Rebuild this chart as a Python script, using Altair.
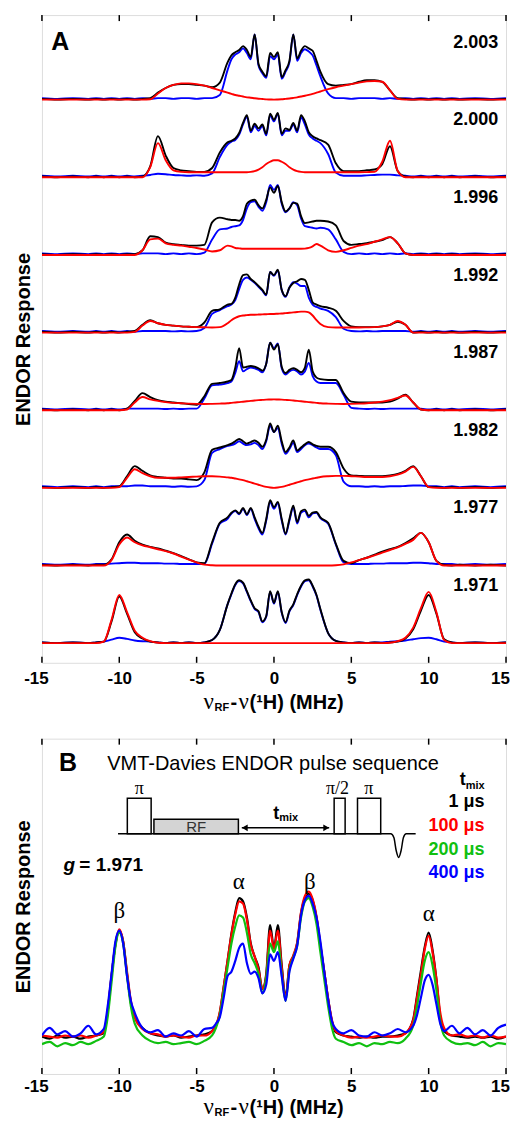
import altair as alt
import pandas as pd

# ---------------- shared values ----------------
TICKS = [-15, -10, -5, 0, 5, 10, 15]
G_VALUES = ["1.971", "1.977", "1.982", "1.987", "1.992", "1.996", "2.000", "2.003"]

# ---------------- panel A : x grid (MHz) ----------------
XA = [-15, -14, -13, -12,
      -11.5, -11, -10.5, -10, -9.5, -9, -8.5, -8, -7.5, -7, -6.5, -6, -5.5, -5, -4.5, -4, -3.5, -3,
      -2.75, -2.5, -2.25, -2, -1.75, -1.5, -1.25, -1, -0.75, -0.5, -0.25, 0, 0.25, 0.5, 0.75, 1, 1.25,
      1.5, 1.75, 2, 2.25, 2.5, 2.75, 3,
      3.5, 4, 4.5, 5, 5.5, 6, 6.5, 7, 7.5, 8, 8.5, 9, 9.5, 10, 10.5, 11, 11.5,
      12, 13, 14, 15]

# g = 2.003
G2003_K = [0.01, 0.00, 0.01, 0.00,
           0.01, 0.00, 0.01, 0.00, 0.01, 0.00, 0.01, 0.02, 0.09, 0.15, 0.19, 0.20, 0.20, 0.19, 0.18, 0.16, 0.22, 0.48,
           0.57, 0.61, 0.64, 0.69, 0.64, 0.55, 0.84, 0.46, 0.36, 0.30, 0.60, 0.55, 0.61, 0.29, 0.38, 0.50, 0.84, 0.53, 0.63, 0.69, 0.66, 0.63, 0.50, 0.36,
           0.20, 0.18, 0.19, 0.20, 0.23, 0.25, 0.25, 0.23, 0.12, 0.02, 0.01, 0.00, 0.01, 0.00, 0.01, 0.00, 0.01,
           0.00, 0.01, 0.00, 0.01]
G2003_B = [0.02, 0.01, 0.02, 0.01,
           0.02, 0.01, 0.02, 0.01, 0.02, 0.01, 0.02, 0.01, 0.02, 0.02, 0.01, 0.02, 0.02, 0.01, 0.02, 0.02, 0.06, 0.38,
           0.52, 0.58, 0.61, 0.66, 0.60, 0.52, 0.84, 0.44, 0.34, 0.28, 0.56, 0.52, 0.58, 0.27, 0.36, 0.48, 0.84, 0.50, 0.60, 0.65, 0.62, 0.57, 0.44, 0.30,
           0.08, 0.02, 0.02, 0.01, 0.02, 0.02, 0.02, 0.01, 0.02, 0.01, 0.02, 0.01, 0.02, 0.01, 0.02, 0.01, 0.02,
           0.01, 0.02, 0.01, 0.02]
G2003_R = [0, 0, 0, 0,
           0, 0, 0, 0, 0, 0, 0, 0.005, 0.08, 0.15, 0.19, 0.21, 0.21, 0.20, 0.18, 0.15, 0.12, 0.09,
           0.075, 0.06, 0.05, 0.04, 0.03, 0.025, 0.018, 0.012, 0.008, 0.004, 0.002, 0.0, 0.002, 0.005, 0.01, 0.015, 0.022, 0.03, 0.04, 0.05, 0.062, 0.075, 0.09, 0.105,
           0.135, 0.16, 0.18, 0.20, 0.22, 0.235, 0.24, 0.23, 0.12, 0.01, 0, 0, 0, 0, 0, 0, 0,
           0, 0, 0, 0]

# g = 2.000
G2000_K = [0.01, 0.00, 0.01, 0.00,
           0.01, 0.00, 0.01, 0.00, 0.01, 0.00, 0.01, 0.14, 0.53, 0.28, 0.12, 0.09, 0.08, 0.07, 0.07, 0.12, 0.32, 0.45,
           0.47, 0.50, 0.57, 0.70, 0.80, 0.60, 0.69, 0.63, 0.68, 0.56, 0.82, 0.74, 0.83, 0.56, 0.63, 0.61, 0.70, 0.60, 0.80, 0.72, 0.58, 0.53, 0.50, 0.48,
           0.42, 0.18, 0.08, 0.08, 0.08, 0.09, 0.10, 0.17, 0.40, 0.08, 0.01, 0.00, 0.01, 0.00, 0.01, 0.00, 0.01,
           0.00, 0.01, 0.00, 0.01]
G2000_B = [0.02, 0.01, 0.02, 0.01,
           0.02, 0.01, 0.02, 0.01, 0.02, 0.01, 0.02, 0.03, 0.045, 0.04, 0.03, 0.025, 0.02, 0.025, 0.02, 0.05, 0.26, 0.42,
           0.46, 0.48, 0.55, 0.68, 0.78, 0.58, 0.66, 0.60, 0.66, 0.54, 0.80, 0.72, 0.82, 0.54, 0.60, 0.60, 0.68, 0.58, 0.77, 0.68, 0.55, 0.50, 0.47, 0.44,
           0.30, 0.06, 0.02, 0.02, 0.02, 0.025, 0.03, 0.035, 0.035, 0.025, 0.02, 0.01, 0.02, 0.01, 0.02, 0.01, 0.02,
           0.01, 0.02, 0.01, 0.02]
G2000_R = [0, 0, 0, 0,
           0, 0, 0, 0, 0, 0, 0, 0.13, 0.44, 0.22, 0.09, 0.07, 0.065, 0.065, 0.065, 0.065, 0.065, 0.065,
           0.065, 0.065, 0.065, 0.065, 0.065, 0.07, 0.08, 0.10, 0.13, 0.17, 0.20, 0.22, 0.22, 0.20, 0.17, 0.13, 0.10, 0.08, 0.07, 0.065, 0.065, 0.065, 0.065, 0.065,
           0.065, 0.065, 0.065, 0.065, 0.065, 0.067, 0.07, 0.20, 0.47, 0.08, 0, 0, 0, 0, 0, 0, 0,
           0, 0, 0, 0]

# g = 1.996
G1996_K = [0.01, 0.00, 0.01, 0.00,
           0.01, 0.00, 0.01, 0.00, 0.01, 0.01, 0.06, 0.24, 0.23, 0.16, 0.14, 0.13, 0.12, 0.12, 0.13, 0.42, 0.48, 0.46,
           0.45, 0.45, 0.44, 0.50, 0.66, 0.70, 0.71, 0.64, 0.60, 0.71, 0.87, 0.80, 0.89, 0.68, 0.56, 0.60, 0.67, 0.66, 0.50, 0.41, 0.42, 0.43, 0.44, 0.44,
           0.43, 0.38, 0.18, 0.13, 0.14, 0.15, 0.17, 0.19, 0.23, 0.15, 0.02, 0.00, 0.01, 0.00, 0.01, 0.00, 0.01,
           0.00, 0.01, 0.00, 0.01]
G1996_B = [0.02, 0.01, 0.02, 0.01,
           0.02, 0.01, 0.02, 0.01, 0.02, 0.01, 0.02, 0.02, 0.02, 0.01, 0.02, 0.01, 0.02, 0.01, 0.03, 0.20, 0.33, 0.34,
           0.36, 0.37, 0.38, 0.45, 0.60, 0.68, 0.69, 0.62, 0.57, 0.68, 0.90, 0.84, 0.90, 0.66, 0.55, 0.60, 0.68, 0.64, 0.47, 0.37, 0.36, 0.35, 0.34, 0.35,
           0.33, 0.20, 0.04, 0.01, 0.02, 0.01, 0.02, 0.01, 0.02, 0.01, 0.02, 0.01, 0.02, 0.01, 0.02, 0.01, 0.02,
           0.01, 0.02, 0.01, 0.02]
G1996_R = [0, 0, 0, 0,
           0, 0, 0, 0, 0, 0, 0.06, 0.20, 0.21, 0.15, 0.13, 0.12, 0.105, 0.09, 0.07, 0.045, 0.06, 0.12,
           0.11, 0.09, 0.085, 0.08, 0.08, 0.08, 0.08, 0.08, 0.08, 0.08, 0.08, 0.08, 0.08, 0.08, 0.08, 0.08, 0.08, 0.08, 0.08, 0.082, 0.09, 0.11, 0.14, 0.12,
           0.06, 0.04, 0.06, 0.09, 0.12, 0.14, 0.17, 0.20, 0.23, 0.15, 0.02, 0, 0, 0, 0, 0, 0,
           0, 0, 0, 0]

# g = 1.992
G1992_K = [0.01, 0.00, 0.01, 0.00,
           0.01, 0.00, 0.01, 0.00, 0.01, 0.02, 0.10, 0.16, 0.12, 0.10, 0.09, 0.08, 0.075, 0.07, 0.13, 0.28, 0.30, 0.36,
           0.37, 0.45, 0.62, 0.74, 0.75, 0.69, 0.65, 0.60, 0.55, 0.49, 0.78, 0.74, 0.81, 0.55, 0.47, 0.58, 0.64, 0.66, 0.69, 0.68, 0.55, 0.39, 0.36, 0.34,
           0.32, 0.28, 0.15, 0.08, 0.07, 0.07, 0.07, 0.08, 0.10, 0.14, 0.10, 0.00, 0.01, 0.00, 0.01, 0.00, 0.01,
           0.00, 0.01, 0.00, 0.01]
G1992_B = [0.02, 0.01, 0.02, 0.01,
           0.02, 0.01, 0.02, 0.01, 0.02, 0.01, 0.02, 0.02, 0.02, 0.02, 0.015, 0.02, 0.015, 0.02, 0.06, 0.24, 0.29, 0.34,
           0.36, 0.42, 0.56, 0.68, 0.71, 0.68, 0.64, 0.59, 0.54, 0.48, 0.78, 0.73, 0.80, 0.55, 0.46, 0.58, 0.65, 0.63, 0.60, 0.60, 0.45, 0.36, 0.33, 0.31,
           0.28, 0.20, 0.05, 0.02, 0.015, 0.02, 0.015, 0.02, 0.02, 0.02, 0.02, 0.01, 0.02, 0.01, 0.02, 0.01, 0.02,
           0.01, 0.02, 0.01, 0.02]
G1992_R = [0, 0, 0, 0,
           0, 0, 0, 0, 0, 0.01, 0.09, 0.15, 0.12, 0.10, 0.09, 0.08, 0.075, 0.07, 0.068, 0.065, 0.07, 0.12,
           0.16, 0.19, 0.21, 0.22, 0.225, 0.23, 0.23, 0.232, 0.235, 0.237, 0.24, 0.24, 0.243, 0.245, 0.25, 0.255, 0.26, 0.265, 0.27, 0.27, 0.26, 0.22, 0.16, 0.11,
           0.07, 0.065, 0.065, 0.065, 0.065, 0.067, 0.07, 0.08, 0.10, 0.15, 0.10, 0, 0, 0, 0, 0, 0,
           0, 0, 0, 0]

# g = 1.987
G1987_K = [0.01, 0.00, 0.01, 0.00,
           0.01, 0.00, 0.01, 0.00, 0.02, 0.12, 0.22, 0.17, 0.13, 0.11, 0.10, 0.09, 0.08, 0.07, 0.18, 0.34, 0.35, 0.37,
           0.39, 0.55, 0.80, 0.55, 0.56, 0.57, 0.56, 0.54, 0.51, 0.60, 0.87, 0.78, 0.85, 0.56, 0.48, 0.52, 0.54, 0.52, 0.49, 0.55, 0.78, 0.50, 0.42, 0.40,
           0.39, 0.39, 0.22, 0.11, 0.10, 0.10, 0.10, 0.10, 0.11, 0.15, 0.20, 0.10, 0.01, 0.00, 0.01, 0.00, 0.01,
           0.00, 0.01, 0.00, 0.01]
G1987_B = [0.02, 0.01, 0.02, 0.01,
           0.02, 0.01, 0.02, 0.01, 0.02, 0.02, 0.02, 0.02, 0.02, 0.015, 0.02, 0.015, 0.02, 0.02, 0.15, 0.32, 0.33, 0.35,
           0.37, 0.48, 0.63, 0.50, 0.53, 0.55, 0.54, 0.52, 0.49, 0.60, 0.87, 0.80, 0.86, 0.54, 0.46, 0.50, 0.52, 0.50, 0.46, 0.50, 0.61, 0.44, 0.37, 0.35,
           0.35, 0.35, 0.20, 0.03, 0.02, 0.015, 0.02, 0.015, 0.02, 0.02, 0.02, 0.02, 0.02, 0.01, 0.02, 0.01, 0.02,
           0.01, 0.02, 0.01, 0.02]
G1987_R = [0, 0, 0, 0,
           0, 0, 0, 0, 0.01, 0.10, 0.17, 0.14, 0.12, 0.105, 0.095, 0.09, 0.085, 0.082, 0.08, 0.082, 0.085, 0.09,
           0.095, 0.10, 0.105, 0.11, 0.115, 0.12, 0.125, 0.13, 0.133, 0.136, 0.138, 0.14, 0.138, 0.136, 0.133, 0.13, 0.125, 0.12, 0.115, 0.11, 0.105, 0.10, 0.095, 0.09,
           0.085, 0.082, 0.08, 0.082, 0.085, 0.09, 0.10, 0.11, 0.13, 0.16, 0.19, 0.10, 0.01, 0, 0, 0, 0,
           0, 0, 0, 0]

# g = 1.982
G1982_K = [0.01, 0.00, 0.01, 0.00,
           0.01, 0.00, 0.01, 0.02, 0.15, 0.28, 0.22, 0.16, 0.14, 0.13, 0.12, 0.12, 0.11, 0.10, 0.20, 0.49, 0.52, 0.55,
           0.57, 0.60, 0.63, 0.60, 0.57, 0.59, 0.61, 0.58, 0.53, 0.62, 0.83, 0.72, 0.80, 0.60, 0.46, 0.52, 0.61, 0.48, 0.52, 0.56, 0.59, 0.56, 0.54, 0.53,
           0.53, 0.46, 0.25, 0.16, 0.155, 0.15, 0.15, 0.15, 0.16, 0.18, 0.22, 0.28, 0.15, 0.01, 0.01, 0.00, 0.01,
           0.00, 0.01, 0.00, 0.01]
G1982_B = [0.02, 0.01, 0.02, 0.01,
           0.02, 0.01, 0.02, 0.02, 0.02, 0.03, 0.03, 0.02, 0.02, 0.02, 0.015, 0.02, 0.015, 0.02, 0.10, 0.45, 0.50, 0.54,
           0.55, 0.57, 0.60, 0.57, 0.55, 0.56, 0.58, 0.55, 0.50, 0.60, 0.80, 0.72, 0.77, 0.57, 0.44, 0.50, 0.58, 0.46, 0.50, 0.55, 0.57, 0.55, 0.52, 0.50,
           0.50, 0.42, 0.08, 0.02, 0.02, 0.015, 0.02, 0.015, 0.02, 0.02, 0.025, 0.03, 0.03, 0.02, 0.02, 0.01, 0.02,
           0.01, 0.02, 0.01, 0.02]
G1982_R = [0, 0, 0, 0,
           0, 0, 0, 0.01, 0.13, 0.24, 0.19, 0.15, 0.13, 0.13, 0.13, 0.135, 0.14, 0.145, 0.15, 0.15, 0.145, 0.135,
           0.13, 0.12, 0.11, 0.10, 0.085, 0.07, 0.055, 0.04, 0.025, 0.012, 0.004, 0.0, 0.004, 0.012, 0.025, 0.04, 0.055, 0.07, 0.085, 0.10, 0.11, 0.12, 0.13, 0.14,
           0.15, 0.155, 0.155, 0.15, 0.145, 0.14, 0.14, 0.14, 0.15, 0.17, 0.21, 0.27, 0.15, 0.01, 0, 0, 0,
           0, 0, 0, 0]

# g = 1.977
G1977_K = [0.01, 0.00, 0.01, 0.00,
           0.01, 0.01, 0.08, 0.30, 0.40, 0.32, 0.27, 0.24, 0.22, 0.19, 0.16, 0.12, 0.08, 0.04, 0.03, 0.30, 0.55, 0.62,
           0.68, 0.71, 0.67, 0.74, 0.66, 0.74, 0.62, 0.50, 0.42, 0.60, 0.84, 0.75, 0.82, 0.60, 0.41, 0.60, 0.77, 0.56, 0.70, 0.72, 0.64, 0.68, 0.69, 0.62,
           0.55, 0.28, 0.06, 0.03, 0.07, 0.10, 0.14, 0.18, 0.21, 0.24, 0.29, 0.35, 0.42, 0.30, 0.06, 0.01, 0.00,
           0.01, 0.00, 0.01, 0.00]
G1977_B = [0.02, 0.01, 0.02, 0.01,
           0.02, 0.02, 0.025, 0.03, 0.035, 0.035, 0.03, 0.03, 0.03, 0.025, 0.025, 0.02, 0.02, 0.02, 0.02, 0.28, 0.54, 0.60,
           0.67, 0.70, 0.66, 0.73, 0.65, 0.73, 0.60, 0.48, 0.40, 0.58, 0.82, 0.73, 0.80, 0.58, 0.40, 0.58, 0.75, 0.54, 0.68, 0.70, 0.62, 0.67, 0.68, 0.61,
           0.54, 0.27, 0.04, 0.02, 0.02, 0.02, 0.025, 0.025, 0.03, 0.03, 0.03, 0.035, 0.035, 0.03, 0.02, 0.02, 0.02,
           0.01, 0.02, 0.01, 0.02]
G1977_R = [0, 0, 0, 0,
           0, 0, 0.07, 0.27, 0.36, 0.30, 0.26, 0.235, 0.21, 0.185, 0.155, 0.115, 0.075, 0.04, 0.012, 0.003, 0, 0,
           0, 0, 0, 0, 0, 0, 0, 0, 0, 0, 0, 0, 0, 0, 0, 0, 0, 0, 0, 0, 0, 0, 0, 0,
           0, 0.003, 0.015, 0.04, 0.07, 0.10, 0.13, 0.165, 0.20, 0.235, 0.28, 0.33, 0.42, 0.30, 0.06, 0, 0,
           0, 0, 0, 0]

# g = 1.971
G1971_K = [0.01, 0.00, 0.01, 0.00,
           0.01, 0.02, 0.28, 0.60, 0.38, 0.14, 0.06, 0.02, 0.01, 0.00, 0.01, 0.00, 0.01, 0.00, 0.01, 0.04, 0.17, 0.50,
           0.64, 0.76, 0.81, 0.78, 0.67, 0.55, 0.45, 0.41, 0.28, 0.35, 0.67, 0.52, 0.67, 0.40, 0.27, 0.42, 0.50, 0.63, 0.74, 0.81, 0.82, 0.74, 0.62, 0.44,
           0.13, 0.03, 0.01, 0.00, 0.01, 0.00, 0.01, 0.00, 0.01, 0.02, 0.06, 0.18, 0.42, 0.62, 0.38, 0.05, 0.01,
           0.00, 0.01, 0.00, 0.01]
G1971_B = [0.01, 0.00, 0.01, 0.00,
           0.01, 0.02, 0.045, 0.07, 0.055, 0.035, 0.025, 0.02, 0.01, 0.00, 0.01, 0.00, 0.01, 0.00, 0.01, 0.04, 0.17, 0.50,
           0.63, 0.75, 0.80, 0.77, 0.66, 0.54, 0.44, 0.40, 0.27, 0.34, 0.66, 0.51, 0.66, 0.39, 0.26, 0.41, 0.49, 0.62, 0.73, 0.80, 0.81, 0.73, 0.61, 0.43,
           0.13, 0.03, 0.01, 0.00, 0.01, 0.00, 0.01, 0.01, 0.02, 0.025, 0.035, 0.05, 0.065, 0.07, 0.05, 0.02, 0.01,
           0.00, 0.01, 0.00, 0.01]
G1971_R = [0, 0, 0, 0,
           0, 0.02, 0.30, 0.62, 0.40, 0.16, 0.07, 0.025, 0.005, 0, 0, 0, 0, 0, 0, 0, 0, 0,
           0, 0, 0, 0, 0, 0, 0, 0, 0, 0, 0, 0, 0, 0, 0, 0, 0, 0, 0, 0, 0, 0, 0, 0,
           0, 0, 0, 0, 0, 0, 0, 0, 0.005, 0.025, 0.07, 0.20, 0.45, 0.66, 0.40, 0.04, 0,
           0, 0, 0, 0]

# ---------------- panel B : x grid (MHz) ----------------
XB = [-15, -14.5, -14, -13.5, -13, -12.5, -12, -11.5,
      -11, -10.75, -10.5, -10.25, -10, -9.75, -9.5, -9.25, -9,
      -8.5, -8, -7.5, -7, -6.5, -6, -5.5, -5, -4.5,
      -4, -3.75, -3.5, -3.25, -3, -2.75, -2.5, -2.25, -2, -1.75, -1.5, -1.25, -1, -0.75, -0.5, -0.25,
      0, 0.25, 0.5, 0.75, 1, 1.25, 1.5, 1.75, 2, 2.25, 2.5, 2.75, 3, 3.25, 3.5, 3.75, 4,
      4.5, 5, 5.5, 6, 6.5, 7, 7.5, 8, 8.5,
      9, 9.25, 9.5, 9.75, 10, 10.25, 10.5, 10.75, 11,
      11.5, 12, 12.5, 13, 13.5, 14, 14.5, 15]

B_1US = [0.02, 0.00, 0.03, 0.01, 0.02, 0.00, 0.02, 0.03,
         0.05, 0.25, 0.58, 0.87, 1.00, 0.90, 0.60, 0.33, 0.20,
         0.10, 0.05, 0.03, 0.02, 0.03, 0.01, 0.02, 0.03, 0.04,
         0.07, 0.12, 0.24, 0.48, 0.72, 0.97, 1.17, 1.30, 1.27, 1.12, 0.88, 0.76, 0.66, 0.46, 0.60, 1.05,
         0.84, 1.05, 0.68, 0.38, 0.68, 0.76, 0.88, 1.16, 1.30, 1.34, 1.28, 1.12, 0.86, 0.62, 0.37, 0.16, 0.06,
         0.03, 0.02, 0.01, 0.02, 0.01, 0.02, 0.02, 0.03, 0.05,
         0.18, 0.40, 0.63, 0.85, 0.98, 0.82, 0.55, 0.20, 0.07,
         0.03, 0.02, 0.01, 0.02, 0.01, 0.02, 0.00, 0.02]
B_100US = [0.03, 0.02, 0.01, 0.03, 0.02, 0.03, 0.01, 0.03,
           0.06, 0.26, 0.58, 0.87, 1.01, 0.90, 0.62, 0.35, 0.20,
           0.09, 0.05, 0.04, 0.02, 0.03, 0.02, 0.01, 0.03, 0.03,
           0.07, 0.12, 0.25, 0.48, 0.72, 0.96, 1.15, 1.27, 1.25, 1.10, 0.87, 0.76, 0.64, 0.46, 0.58, 1.00,
           0.83, 1.00, 0.66, 0.37, 0.68, 0.77, 0.89, 1.17, 1.32, 1.36, 1.29, 1.13, 0.87, 0.62, 0.37, 0.17, 0.07,
           0.03, 0.01, 0.02, 0.01, 0.02, 0.03, 0.02, 0.02, 0.05,
           0.17, 0.38, 0.60, 0.83, 0.95, 0.80, 0.55, 0.24, 0.10,
           0.03, 0.04, 0.02, 0.03, 0.01, 0.03, 0.01, 0.02]
B_200US = [-0.05, -0.03, -0.07, -0.04, -0.06, -0.03, -0.05, -0.02,
           0.02, 0.20, 0.52, 0.85, 0.98, 0.88, 0.58, 0.30, 0.14,
           0.03, -0.02, -0.04, -0.03, -0.05, -0.04, -0.03, -0.05, -0.02,
           0.03, 0.10, 0.22, 0.44, 0.66, 0.88, 1.04, 1.14, 1.12, 0.98, 0.78, 0.70, 0.60, 0.42, 0.56, 0.88,
           0.80, 0.90, 0.60, 0.35, 0.64, 0.75, 0.86, 1.12, 1.27, 1.30, 1.22, 1.06, 0.80, 0.55, 0.30, 0.10, 0.00,
           -0.03, -0.06, -0.04, -0.07, -0.04, -0.05, -0.03, -0.04, 0.00,
           0.12, 0.30, 0.52, 0.72, 0.80, 0.68, 0.45, 0.16, 0.03,
           -0.03, -0.05, -0.04, -0.06, -0.03, -0.07, -0.04, -0.05]
B_400US = [0.03, 0.10, 0.04, 0.07, 0.02, 0.05, 0.12, 0.04,
           0.09, 0.30, 0.60, 0.90, 1.00, 0.88, 0.58, 0.35, 0.24,
           0.10, 0.06, 0.08, 0.02, 0.05, 0.03, 0.07, 0.02, 0.09,
           0.10, 0.14, 0.20, 0.38, 0.58, 0.62, 0.72, 0.84, 0.88, 0.70, 0.60, 0.62, 0.56, 0.42, 0.50, 0.78,
           0.72, 0.80, 0.58, 0.35, 0.62, 0.74, 0.86, 1.14, 1.28, 1.32, 1.25, 1.12, 0.90, 0.62, 0.36, 0.16, 0.09,
           0.05, 0.08, 0.03, 0.02, 0.06, 0.03, 0.05, 0.09, 0.06,
           0.12, 0.22, 0.38, 0.54, 0.59, 0.50, 0.32, 0.14, 0.07,
           0.12, 0.05, 0.10, 0.04, 0.08, 0.03, 0.10, 0.13]
B_SERIES = ["1 μs", "100 μs", "200 μs", "400 μs"]

# peak labels (panel B)
PEAK_TEXT = ["β", "α", "β", "α"]
PEAK_X = [-10.0, -2.28, 2.32, 10.0]
PEAK_Y = [1.12, 1.384, 1.381, 1.092]

# pulse-sequence sketch (panel B, in data units)
SEQ_X = [-10.08, 7.55, 7.75, 7.9, 8.06, 8.22, 8.37, 8.55, 9.16]
SEQ_Y = [1.894, 1.894, 1.86, 1.74, 1.676, 1.74, 1.86, 1.894, 1.894]
PULSE_X1 = [-9.48, 3.89, 5.40]
PULSE_X2 = [-7.94, 4.60, 6.90]
PULSE_TOP = [2.223, 2.223, 2.223]
RF_X1 = [-7.76]
RF_X2 = [-2.30]
RF_TOP = [2.03]
SEQ_BASE = 1.894
ARROW_X = [-2.08, 3.57]
ARROW_Y = 1.95
PULSE_LABELS = ["π", "π/2", "π"]
PULSE_LABEL_X = [-8.71, 4.11, 6.13]
PULSE_LABEL_Y = 2.26

# ---------------- build tables ----------------
TRACES_A = [(G1971_K, G1971_B, G1971_R), (G1977_K, G1977_B, G1977_R), (G1982_K, G1982_B, G1982_R),
            (G1987_K, G1987_B, G1987_R), (G1992_K, G1992_B, G1992_R), (G1996_K, G1996_B, G1996_R),
            (G2000_K, G2000_B, G2000_R), (G2003_K, G2003_B, G2003_R)]
rows = []
for i, (g, (k, b, r)) in enumerate(zip(G_VALUES, TRACES_A)):
    for name, arr in (("blue", b), ("black", k), ("red", r)):
        if len(arr) != len(XA):
            raise ValueError(f"{g} {name}: {len(arr)} vs {len(XA)}")
        for xv, hv in zip(XA, arr):
            rows.append({"g": g, "s": name, "x": xv, "y": i + hv})
dfA = pd.DataFrame(rows)

rowsB = []
for name, arr in zip(B_SERIES, [B_1US, B_100US, B_200US, B_400US]):
    if len(arr) != len(XB):
        raise ValueError(f"{name}: {len(arr)} vs {len(XB)}")
    for xv, hv in zip(XB, arr):
        rowsB.append({"s": name, "x": xv, "y": hv})
dfB = pd.DataFrame(rowsB)

# ---------------- styling ----------------
FONT = "Liberation Sans"
SERIF = "Liberation Serif"
W, HA, HB = 465, 649, 336
BLACK, BLUE, RED, GREEN = "#000000", "#0000ff", "#ff0000", "#10c010"

xs = alt.Scale(domain=[-15, 15], nice=False, zero=False)
ysA = alt.Scale(domain=[-0.253, 8.089], nice=False, zero=False)
ysB = alt.Scale(domain=[-0.326, 2.774], nice=False, zero=False)


def x_axis(pad):
    return alt.Axis(values=TICKS, ticks=False, tickSize=0, domain=False, grid=False,
                    labelFont=FONT, labelFontSize=17, labelFontWeight="bold", labelColor="black",
                    labelPadding=pad, labelFlush=False, labelExpr="'' + datum.value", title=None,
                    labelOffset={"condition": {"test": "abs(datum.value) == 15", "value": -6},
                                 "value": 0})


Y_AXIS = alt.Axis(labels=False, ticks=False, domain=False, grid=False, title="ENDOR Response",
                  titleFont=FONT, titleFontSize=20, titleFontWeight="bold", titleColor="black",
                  titlePadding=8)
AXA = x_axis(8)
AXB = x_axis(5)


def lines(df, series, color, sw, ys, axx, detail=None):
    enc = dict(x=alt.X("x:Q", scale=xs, axis=axx), y=alt.Y("y:Q", scale=ys, axis=Y_AXIS))
    if detail:
        enc["detail"] = detail
    return alt.Chart(df).transform_filter(alt.datum.s == series).mark_line(
        color=color, strokeWidth=sw, interpolate="monotone", clip=True).encode(**enc)


def tick_layers(axx, h):
    d = pd.DataFrame({"x": TICKS})
    top = alt.Chart(d).mark_rule(color="black", strokeWidth=1.5).encode(
        x=alt.X("x:Q", scale=xs, axis=axx), y=alt.value(0), y2=alt.value(6))
    bot = alt.Chart(d).mark_rule(color="black", strokeWidth=1.5).encode(
        x=alt.X("x:Q", scale=xs, axis=axx), y=alt.value(h), y2=alt.value(h - 6))
    return [top, bot]


def dtext(df, ys, axx, **kw):
    return alt.Chart(df).mark_text(**kw).encode(
        x=alt.X("x:Q", scale=xs, axis=axx), y=alt.Y("y:Q", scale=ys, axis=Y_AXIS), text="t:N")


def ptext(t, px, py, **kw):
    return alt.Chart(pd.DataFrame({"t": [t]})).mark_text(**kw).encode(
        x=alt.value(px), y=alt.value(py), text="t:N")


def x_title(py):
    common = dict(align="left", baseline="alphabetic", color="black")
    return [
        ptext("ν", 162, py, font=SERIF, fontSize=23, **common),
        ptext("RF", 173, py + 2, font=FONT, fontSize=11, fontWeight="bold", **common),
        ptext("-", 189, py, font=FONT, fontSize=20, fontWeight="bold", **common),
        ptext("ν", 197, py, font=SERIF, fontSize=23, **common),
        ptext("(¹H) (MHz)", 208, py, font=FONT, fontSize=20, fontWeight="bold", **common),
    ]


# ---------------- panel A ----------------
glab = pd.DataFrame({"t": G_VALUES, "x": [14.5] * len(G_VALUES),
                     "y": [i + 0.735 for i in range(len(G_VALUES))]})
letterA = pd.DataFrame({"t": ["A"], "x": [-14.39], "y": [7.748]})

panelA = alt.layer(
    lines(dfA, "blue", BLUE, 1.9, ysA, AXA, "g:N"),
    lines(dfA, "black", BLACK, 1.9, ysA, AXA, "g:N"),
    lines(dfA, "red", RED, 1.9, ysA, AXA, "g:N"),
    *tick_layers(AXA, HA),
    dtext(glab, ysA, AXA, align="right", baseline="middle", font=FONT, fontSize=18,
          fontWeight="bold", color="black"),
    dtext(letterA, ysA, AXA, align="left", baseline="middle", font=FONT, fontSize=25,
          fontWeight="bold", color="black"),
    *x_title(695),
).properties(width=W, height=HA)

# ---------------- panel B ----------------
seq = pd.DataFrame({"x": SEQ_X, "y": SEQ_Y})
pulses = pd.DataFrame({"x": PULSE_X1, "x2": PULSE_X2, "y": [SEQ_BASE] * 3, "y2": PULSE_TOP})
rfbox = pd.DataFrame({"x": RF_X1, "x2": RF_X2, "y": [SEQ_BASE], "y2": RF_TOP})
arrow = pd.DataFrame({"x": ARROW_X, "y": [ARROW_Y] * 2})
peaks = pd.DataFrame({"t": PEAK_TEXT, "x": PEAK_X, "y": PEAK_Y})
plabels = pd.DataFrame({"t": PULSE_LABELS, "x": PULSE_LABEL_X, "y": [PULSE_LABEL_Y] * 3})
legend_df = pd.DataFrame({"t": B_SERIES, "x": [13.61] * 4, "y": [2.184, 1.967, 1.745, 1.529]})


def rect_layer(df, fill):
    return alt.Chart(df).mark_rect(fill=fill, stroke="black", strokeWidth=1.5).encode(
        x=alt.X("x:Q", scale=xs, axis=AXB), x2="x2:Q",
        y=alt.Y("y:Q", scale=ysB, axis=Y_AXIS), y2="y2:Q")


def one(t, x, y):
    return pd.DataFrame({"t": [t], "x": [x], "y": [y]})


sans_b = dict(font=FONT, fontWeight="bold", color="black")

panelB = alt.layer(
    lines(dfB, "1 μs", BLACK, 2.2, ysB, AXB),
    lines(dfB, "100 μs", RED, 2.2, ysB, AXB),
    lines(dfB, "200 μs", GREEN, 2.2, ysB, AXB),
    lines(dfB, "400 μs", BLUE, 2.2, ysB, AXB),
    *tick_layers(AXB, HB),
    # pulse sequence sketch
    alt.Chart(seq).mark_line(color="black", strokeWidth=1.5, interpolate="monotone").encode(
        x=alt.X("x:Q", scale=xs, axis=AXB), y=alt.Y("y:Q", scale=ysB, axis=Y_AXIS)),
    rect_layer(pulses, "white"),
    rect_layer(rfbox, "#d4d4d4"),
    alt.Chart(arrow).mark_line(color="black", strokeWidth=1.5).encode(
        x=alt.X("x:Q", scale=xs, axis=AXB), y=alt.Y("y:Q", scale=ysB, axis=Y_AXIS)),
    alt.Chart(arrow.iloc[[0]]).mark_point(shape="triangle-left", filled=True, color="black",
                                          size=45, opacity=1).encode(
        x=alt.X("x:Q", scale=xs, axis=AXB), y=alt.Y("y:Q", scale=ysB, axis=Y_AXIS), xOffset=alt.value(3)),
    alt.Chart(arrow.iloc[[1]]).mark_point(shape="triangle-right", filled=True, color="black",
                                          size=45, opacity=1).encode(
        x=alt.X("x:Q", scale=xs, axis=AXB), y=alt.Y("y:Q", scale=ysB, axis=Y_AXIS), xOffset=alt.value(-3)),
    dtext(one("RF", -5.03, 1.955), ysB, AXB, align="center", baseline="middle", font=FONT,
          fontSize=15, color="#333333"),
    dtext(plabels, ysB, AXB, align="center", baseline="alphabetic", font=SERIF, fontSize=18,
          color="black"),
    dtext(one("t", 0.34, 2.03), ysB, AXB, align="right", baseline="alphabetic", fontSize=18, **sans_b),
    dtext(one("mix", 0.34, 2.015), ysB, AXB, align="left", baseline="alphabetic", fontSize=11, **sans_b),
    dtext(one("VMT-Davies ENDOR pulse sequence", -0.06, 2.486), ysB, AXB, align="center",
          baseline="alphabetic", font=FONT, fontSize=20, color="black"),
    dtext(one("B", -13.9, 2.546), ysB, AXB, align="left", baseline="middle", fontSize=25, **sans_b),
    # legend
    dtext(one("t", 12.39, 2.341), ysB, AXB, align="right", baseline="alphabetic", fontSize=18, **sans_b),
    dtext(one("mix", 12.39, 2.304), ysB, AXB, align="left", baseline="alphabetic", fontSize=11, **sans_b),
    alt.Chart(legend_df).mark_text(align="right", baseline="middle", font=FONT, fontSize=18,
                                   fontWeight="bold").encode(
        x=alt.X("x:Q", scale=xs, axis=AXB), y=alt.Y("y:Q", scale=ysB, axis=Y_AXIS), text="t:N",
        color=alt.Color("t:N", scale=alt.Scale(domain=B_SERIES, range=[BLACK, RED, GREEN, BLUE]),
                        legend=None)),
    # g value
    dtext(one("g", -13.61, 1.61), ysB, AXB, align="left", baseline="middle", fontSize=19,
          fontStyle="italic", **sans_b),
    dtext(one("= 1.971", -12.58, 1.61), ysB, AXB, align="left", baseline="middle", fontSize=19, **sans_b),
    # alpha / beta
    dtext(peaks, ysB, AXB, align="center", baseline="alphabetic", font=SERIF, fontSize=23,
          color="black"),
    *x_title(376),
).properties(width=W, height=HB)

chart = alt.vconcat(panelA, panelB, spacing=22,
                    padding={"left": 5, "top": 4, "right": 0, "bottom": 0}).configure_view(
    stroke="black", strokeWidth=2).configure(background="white")

chart.save("out.html", embed_options={"renderer": "svg", "actions": False})
